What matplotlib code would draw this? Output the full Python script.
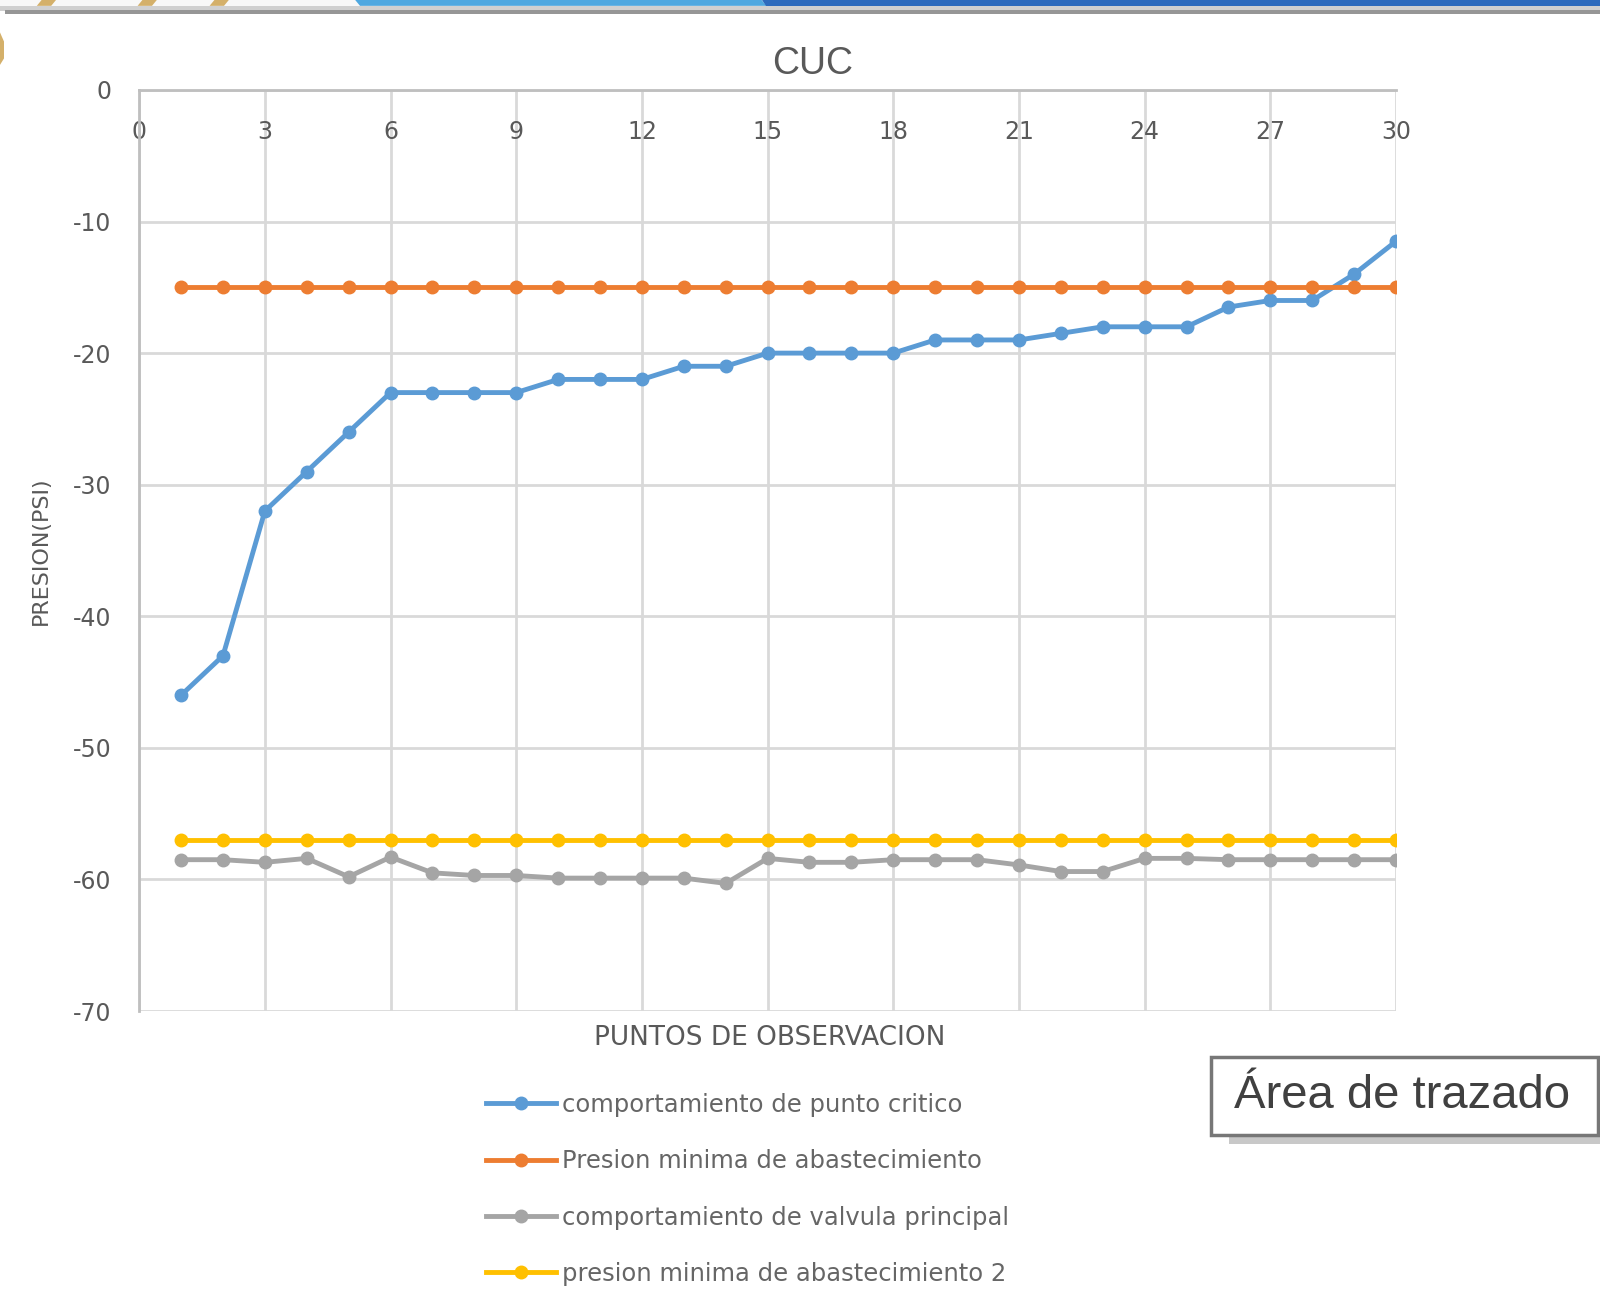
import numpy as np
import matplotlib.pyplot as plt
from matplotlib.patches import Rectangle, Polygon

# observation points
puntos = list(range(1, 31))

critico = [-46, -43, -32, -29, -26, -23, -23, -23, -23, -22,
           -22, -22, -21, -21, -20, -20, -20, -20, -19, -19,
           -19, -18.5, -18, -18, -18, -16.5, -16, -16, -14, -11.5]
presion_min = [-15] * 30
valvula = [-58.5, -58.5, -58.7, -58.4, -59.8, -58.3, -59.5, -59.7, -59.7, -59.9,
           -59.9, -59.9, -59.9, -60.3, -58.4, -58.7, -58.7, -58.5, -58.5, -58.5,
           -58.9, -59.4, -59.4, -58.4, -58.4, -58.5, -58.5, -58.5, -58.5, -58.5]
presion_min2 = [-57] * 30

series = [
    ('comportamiento de punto critico', critico, '#5b9bd5'),
    ('Presion minima de abastecimiento', presion_min, '#ed7d31'),
    ('comportamiento de valvula principal', valvula, '#a5a5a5'),
    ('presion minima de abastecimiento 2', presion_min2, '#ffc000'),
]

xticks = list(range(0, 31, 3))
yticks = list(range(-70, 1, 10))

plt.rcParams['font.family'] = ['DejaVu Sans']
plt.rcParams['axes.unicode_minus'] = False
txt = '#595959'

fig = plt.figure(figsize=(16, 12.98), dpi=100)
ax = fig.add_axes([0.087, 0.2211, 0.7855, 0.7096])

handles = []
for name, vals, col in series:
    h, = ax.plot(puntos, vals, color=col, lw=3.5, marker='o', ms=9,
                 label=name, zorder=3)
    handles.append(h)

ax.set_xlim(0, 30)
ax.set_ylim(-70, 0)
ax.set_xticks(xticks)
ax.set_yticks(yticks)

# grid
ax.grid(True, color='#d9d9d9', lw=2)
ax.set_axisbelow(True)
for s in ['right', 'bottom']:
    ax.spines[s].set_visible(False)
ax.spines['left'].set_color('#bfbfbf')
ax.spines['left'].set_linewidth(2)
ax.spines['top'].set_color('#bfbfbf')
ax.spines['top'].set_linewidth(2)

# x axis crosses at 0 -> labels sit just below the top line
ax.tick_params(axis='x', top=True, labeltop=True, bottom=False, labelbottom=False,
               length=0, pad=-39, labelsize=17, labelcolor=txt)
ax.tick_params(axis='y', length=0, pad=20, labelsize=17, labelcolor=txt)

ax.set_ylabel('PRESION(PSI)', fontsize=16, color=txt, labelpad=16)

fig.text(0.508, 0.951, 'CUC', ha='center', va='center', fontsize=27, color=txt,
         family='Liberation Sans')
fig.text(0.481, 0.2, 'PUNTOS DE OBSERVACION', ha='center', va='center',
         fontsize=19, color=txt)

fig.legend(handles=handles, loc='upper left', bbox_to_anchor=(0.29, 0.1748),
           frameon=False, fontsize=17.5, labelcolor='#666666', handlelength=2.9,
           labelspacing=1.33, handletextpad=0.25)

# tooltip box with shadow
fig.add_artist(Rectangle((0.768, 0.1186), 0.232, 0.0601, transform=fig.transFigure,
                         fc='#c8c8c8', ec='none', zorder=4))
fig.add_artist(Rectangle((0.757, 0.1256), 0.242, 0.0601, transform=fig.transFigure,
                         fc='white', ec='#777777', lw=2.5, zorder=5))
fig.text(0.8765, 0.1556, 'Área de trazado', ha='center', va='center',
         fontsize=34, color='#404040', family='Liberation Sans', zorder=6)

# top decoration strip
fig.add_artist(Rectangle((0, 0.9955), 1, 0.0045, transform=fig.transFigure,
                         color='#f8f8f8', lw=0))
for x0 in [0.026, 0.089, 0.134]:
    fig.add_artist(Polygon([(x0, 1), (x0 + 0.009, 1), (x0 + 0.006, 0.9955), (x0 - 0.003, 0.9955)],
                           closed=True, transform=fig.transFigure, color='#d4b06a', lw=0))
fig.add_artist(Polygon([(0.222, 1), (0.476, 1), (0.479, 0.9955), (0.225, 0.9955)],
                       closed=True, transform=fig.transFigure, color='#4fa8e0', lw=0))
fig.add_artist(Polygon([(0.476, 1), (1, 1), (1, 0.9955), (0.479, 0.9955)],
                       closed=True, transform=fig.transFigure, color='#2e6bbd', lw=0))
fig.add_artist(Rectangle((0, 0.9915), 1, 0.004, transform=fig.transFigure,
                         color='#d0d0d0', lw=0))
fig.add_artist(Rectangle((0.003, 0.9895), 0.997, 0.003, transform=fig.transFigure,
                         color='#969696', lw=0))
fig.add_artist(Polygon([(0, 0.975), (0.0025, 0.968), (0.0025, 0.955), (0, 0.95)],
                       closed=True, transform=fig.transFigure, color='#d4b06a', lw=0))

fig.savefig('out.png', dpi=100)
